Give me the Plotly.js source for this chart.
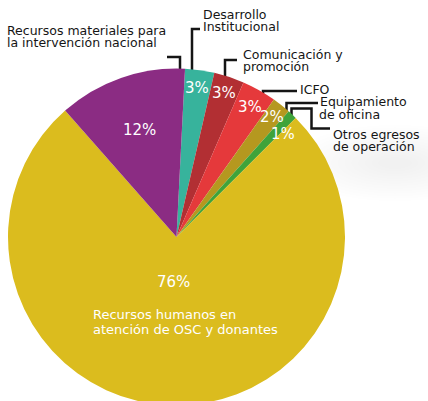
<!DOCTYPE html>
<html>
<head>
<meta charset="utf-8">
<script src="https://cdn.plot.ly/plotly-3.0.1.min.js"></script>
<style>
  html, body { margin: 0; padding: 0; background: #ffffff; overflow: hidden; }
  #chart { width: 428px; height: 480px; }
</style>
</head>
<body>
<div id="chart"></div>
<script>
// ---- data ----
var categories = [
  "Desarrollo Institucional",
  "Comunicación y promoción",
  "ICFO",
  "Equipamiento de oficina",
  "Otros egresos de operación",
  "Recursos humanos en atención de OSC y donantes",
  "Recursos materiales para la intervención nacional"
];
var values = [2.8, 2.9, 3.3, 1.8, 0.9, 76.0, 12.3];

// ---- style ----
var W = 428, H = 480;
var cx = 176.5, cy = 237, R = 168.5;
var startAngle = 2.9;
var colors = ["#37b39c", "#b22f33", "#e5393b", "#b5981f", "#3fa33a", "#dbbc1e", "#8b2c83"];
var FONT = "DejaVu Sans";
var inLabelR = [0.895, 0.9, 0.885, 0.91, 0.88, 0.27, 0.673];
var inLabelDA = [0, 0, 0, 0, 2.5, 2, 0];
var inLabelSize = [15, 15, 15, 15, 15, 15, 15];

// outside label lines (text, left x, baseline y)
var outLabels = [
  ["Recursos materiales para", 7, 35], ["la intervención nacional", 7, 47],
  ["Desarrollo", 203, 19], ["Institucional", 203, 31],
  ["Comunicación y", 243, 58.5], ["promoción", 243, 70.5],
  ["ICFO", 300, 93.5],
  ["Equipamiento", 320, 106], ["de oficina", 319, 118.5],
  ["Otros egresos", 333, 139], ["de operación", 333, 151]
];
// connectors: list of points, last point goes to pie edge at given x
var connectors = [
  {pts: [[167, 57], [180, 57]], edgeX: 180},
  {pts: [[200, 29], [192, 29]], edgeX: 192},
  {pts: [[237, 60], [225, 60]], edgeX: 225},
  {pts: [[297, 91], [263, 91]], edgeX: 263},
  {pts: [[318, 103], [286.5, 103]], edgeX: 286.5},
  {pts: [[330, 128.5], [311.5, 128.5], [311.5, 108.5], [291.5, 108.5]], edgeX: 291.5}
];
var innerText2 = [["Recursos humanos en", 92.5, 319.5], ["atención de OSC y donantes", 92.5, 334]];

function px(x) { return x / W; }
function py(y) { return 1 - y / H; }

var total = values.reduce(function (a, b) { return a + b; }, 0);
var annotations = [];
var shapes = [];

// very faint background shadow at right
for (var k = 0; k < 14; k++) {
  var s = 70 - k * 4.5;
  shapes.push({type: "circle", xref: "paper", yref: "paper", layer: "below",
    x0: px(395 - s * 1.5), x1: px(395 + s * 1.5), y0: py(163 + s * 0.55), y1: py(163 - s * 0.55),
    fillcolor: "rgba(0,0,0,0.0028)", line: {width: 0}});
}

// inner percent labels from data
var acc = 0;
values.forEach(function (v, i) {
  var mid = startAngle + (acc + v / 2) / total * 360 + inLabelDA[i];
  acc += v;
  var a = mid * Math.PI / 180;
  var r = R * inLabelR[i];
  var x = cx + r * Math.sin(a), y = cy - r * Math.cos(a);
  annotations.push({
    xref: "paper", yref: "paper", x: px(x), y: py(y),
    xanchor: "center", yanchor: "middle", showarrow: false,
    borderpad: 0, borderwidth: 0,
    text: Math.round(v / total * 100) + "%",
    font: {family: FONT, size: inLabelSize[i], color: "#ffffff"}
  });
});

function textAnn(t, x, base, size, color) {
  return {
    xref: "paper", yref: "paper", x: px(x), y: py(base - 0.35 * size),
    xanchor: "left", yanchor: "middle", showarrow: false,
    borderpad: 0, borderwidth: 0, text: t,
    font: {family: FONT, size: size, color: color}
  };
}
outLabels.forEach(function (l) { annotations.push(textAnn(l[0], l[1], l[2], 12.5, "#151515")); });
innerText2.forEach(function (l) { annotations.push(textAnn(l[0], l[1], l[2], 13, "#ffffff")); });

connectors.forEach(function (c) {
  var ey = cy - Math.sqrt(R * R - Math.pow(c.edgeX - cx, 2)) + 2;
  var d = "M" + c.pts.map(function (p) { return px(p[0]) + "," + py(p[1]); }).join(" L");
  d += " L" + px(c.edgeX) + "," + py(ey);
  shapes.push({type: "path", xref: "paper", yref: "paper", path: d,
    line: {color: "#151515", width: 2.5}, layer: "below"});
});

var trace = {
  type: "pie",
  labels: categories,
  values: values,
  sort: false,
  direction: "clockwise",
  rotation: startAngle,
  textinfo: "none",
  hoverinfo: "label+percent",
  marker: {colors: colors, line: {width: 0}},
  domain: {x: [px(cx - R), px(cx + R)], y: [py(cy + R), py(cy - R)]},
  showlegend: false
};

var layout = {
  width: W, height: H,
  margin: {l: 0, r: 0, t: 0, b: 0, pad: 0},
  paper_bgcolor: "#ffffff",
  plot_bgcolor: "#ffffff",
  showlegend: false,
  annotations: annotations,
  shapes: shapes
};

Plotly.newPlot("chart", [trace], layout, {displayModeBar: false, staticPlot: true});
</script>
</body>
</html>
